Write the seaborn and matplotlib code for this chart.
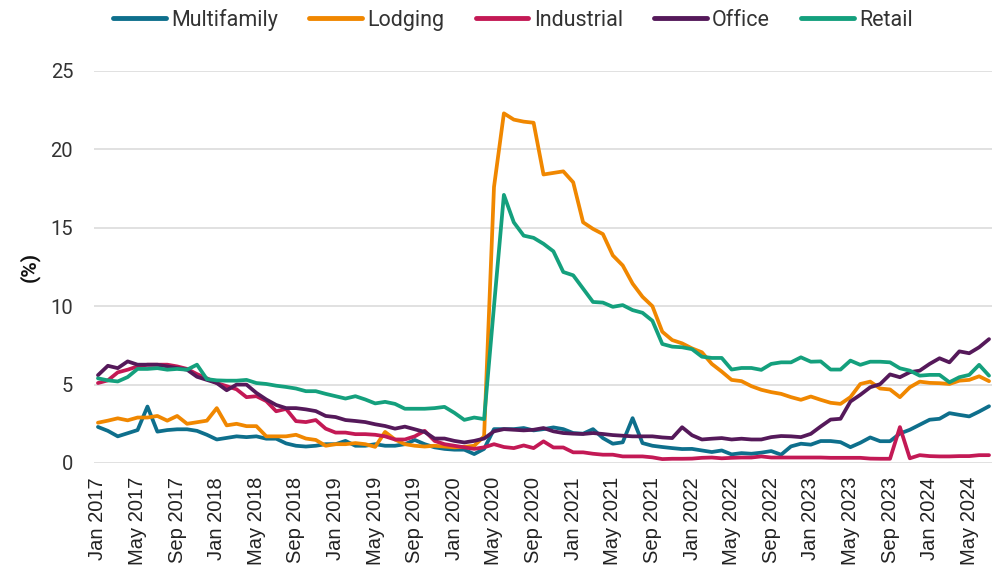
import matplotlib
matplotlib.use("Agg")
import matplotlib.pyplot as plt
import numpy as np
import pandas as pd
import seaborn as sns

# ---------------- data ----------------
months = pd.date_range("2017-01-01", periods=91, freq="MS")

multifamily = [2.3, 2.05, 1.7, 1.9, 2.1, 3.6, 2.0, 2.1, 2.15, 2.15, 2.05, 1.8, 1.5, 1.6, 1.7, 1.65, 1.7, 1.55, 1.55, 1.25, 1.1,
               1.05, 1.1, 1.2, 1.2, 1.41, 1.1, 1.1, 1.2, 1.1, 1.1, 1.2, 1.47, 1.2, 1.0, 0.9, 0.85, 0.85, 0.57, 0.9, 2.16,
               2.16, 2.16, 2.23, 2.08, 2.16, 2.27, 2.16, 1.91, 1.87, 2.16, 1.59, 1.23, 1.32, 2.86, 1.27, 1.1, 1.02, 0.95, 0.89, 0.9,
               0.8, 0.7, 0.8, 0.55, 0.63, 0.59, 0.66, 0.76, 0.53, 1.06, 1.23, 1.17, 1.4, 1.4, 1.33, 1.01, 1.29, 1.63, 1.39, 1.39,
               1.88, 2.12, 2.44, 2.76, 2.82, 3.18, 3.07, 2.97, 3.28, 3.62]

lodging = [2.57, 2.7, 2.85, 2.72, 2.9, 2.9, 3.0, 2.7, 3.0, 2.5, 2.6, 2.7, 3.5, 2.4, 2.5, 2.35, 2.35, 1.7, 1.7, 1.7, 1.8,
           1.56, 1.47, 1.1, 1.2, 1.2, 1.27, 1.2, 1.03, 1.98, 1.5, 1.2, 1.1, 1.05, 1.1, 1.05, 1.0, 1.03, 1.1, 1.7, 17.6,
           22.3, 21.9, 21.77, 21.7, 18.4, 18.5, 18.6, 17.9, 15.35, 14.93, 14.6, 13.24, 12.6, 11.44, 10.6, 10.0, 8.37, 7.84, 7.63, 7.31,
           7.06, 6.32, 5.83, 5.3, 5.22, 4.9, 4.67, 4.52, 4.41, 4.2, 4.03, 4.24, 4.03, 3.84, 3.77, 4.2, 5.04, 5.19, 4.75, 4.69,
           4.2, 4.83, 5.19, 5.11, 5.09, 5.04, 5.25, 5.3, 5.53, 5.22]

industrial = [5.1, 5.27, 5.78, 5.95, 6.16, 6.27, 6.27, 6.27, 6.16, 6.0, 5.67, 5.4, 5.1, 4.9, 4.7, 4.2, 4.26, 3.95, 3.3, 3.45, 2.67,
              2.61, 2.74, 2.19, 1.94, 1.94, 1.84, 1.84, 1.8, 1.7, 1.5, 1.5, 1.7, 2.05, 1.41, 1.2, 1.1, 1.0, 0.9, 1.0, 1.2,
              1.02, 0.95, 1.12, 0.95, 1.38, 0.99, 0.99, 0.68, 0.68, 0.59, 0.53, 0.53, 0.42, 0.42, 0.42, 0.36, 0.25, 0.27, 0.27, 0.28,
              0.33, 0.35, 0.3, 0.33, 0.35, 0.35, 0.42, 0.35, 0.35, 0.35, 0.35, 0.35, 0.35, 0.33, 0.33, 0.33, 0.33, 0.28, 0.27, 0.27,
              2.29, 0.3, 0.5, 0.44, 0.42, 0.42, 0.44, 0.44, 0.5, 0.5]

office = [5.6, 6.2, 6.05, 6.48, 6.27, 6.27, 6.27, 6.16, 6.05, 5.95, 5.5, 5.3, 5.1, 4.64, 5.0, 5.0, 4.47, 4.05, 3.7, 3.5, 3.5,
          3.42, 3.31, 3.0, 2.93, 2.74, 2.68, 2.61, 2.47, 2.36, 2.19, 2.32, 2.15, 1.98, 1.56, 1.56, 1.41, 1.31, 1.41, 1.56, 2.02,
          2.16, 2.12, 2.08, 2.12, 2.23, 2.02, 1.91, 1.87, 1.85, 1.91, 1.85, 1.78, 1.74, 1.7, 1.7, 1.7, 1.63, 1.59, 2.28, 1.77,
          1.5, 1.55, 1.59, 1.5, 1.55, 1.5, 1.5, 1.65, 1.72, 1.7, 1.65, 1.86, 2.33, 2.77, 2.82, 3.92, 4.35, 4.83, 5.03, 5.65,
          5.47, 5.79, 5.89, 6.32, 6.68, 6.42, 7.12, 7.0, 7.38, 7.9]

retail = [5.4, 5.27, 5.2, 5.48, 6.0, 6.0, 6.05, 5.95, 6.0, 5.95, 6.27, 5.35, 5.27, 5.25, 5.25, 5.3, 5.1, 5.04, 4.93, 4.85, 4.75,
          4.58, 4.58, 4.41, 4.26, 4.11, 4.26, 4.05, 3.8, 3.9, 3.77, 3.46, 3.46, 3.46, 3.5, 3.58, 3.2, 2.75, 2.9, 2.8, 10.0,
          17.1, 15.35, 14.5, 14.36, 13.98, 13.5, 12.18, 11.97, 11.12, 10.27, 10.23, 9.96, 10.07, 9.75, 9.58, 9.07, 7.59, 7.42, 7.38, 7.26,
          6.78, 6.7, 6.7, 5.96, 6.06, 6.06, 5.94, 6.32, 6.42, 6.42, 6.74, 6.46, 6.48, 5.96, 5.96, 6.53, 6.26, 6.46, 6.46, 6.42,
          6.04, 5.89, 5.57, 5.62, 5.62, 5.15, 5.47, 5.62, 6.26, 5.57]

series_names = ["Multifamily", "Lodging", "Industrial", "Office", "Retail"]
series_colors = ["#0E6F8C", "#F08700", "#C31955", "#55195A", "#14A07D"]

tick_idx = list(range(0, 91, 4))
tick_labels = [months[i].strftime("%b %Y") for i in tick_idx]

# ---------------- frame ----------------
wide = pd.DataFrame({
    "idx": np.arange(len(months)),
    "Multifamily": multifamily,
    "Lodging": lodging,
    "Industrial": industrial,
    "Office": office,
    "Retail": retail,
})
df = wide.melt(id_vars="idx", var_name="series", value_name="value")

sns.set_theme(style="white")
plt.rcParams["font.family"] = ["Roboto", "DejaVu Sans"]

fig = plt.figure(figsize=(9.92, 5.69), dpi=100)
ax = fig.add_axes([94 / 992, 1 - 463 / 569, 898 / 992, 392 / 569])

sns.lineplot(data=df, x="idx", y="value", hue="series", hue_order=series_names,
             palette=series_colors, linewidth=2.7, ax=ax, legend=False)

ax.set_xlim(-0.4, 90.3)
ax.set_ylim(0, 25)
ax.set_yticks([0, 5, 10, 15, 20, 25])
ax.set_yticklabels(["0", "5", "10", "15", "20", "25"], fontsize=14.5, color="#333333",
                   family=["Roboto", "DejaVu Sans"])
ax.set_xticks(tick_idx)
ax.set_xticklabels(tick_labels, rotation=90, fontsize=14.5, color="#222222",
                   family=["Liberation Sans", "DejaVu Sans"])
ax.tick_params(axis="both", length=0)
ax.tick_params(axis="y", pad=15)
ax.tick_params(axis="x", pad=10)

ax.grid(False)
ax.yaxis.grid(True, color="#d9d9d9", linewidth=1.1)
ax.set_axisbelow(True)
for s in ax.spines.values():
    s.set_visible(False)
for ln in ax.lines:
    ln.set_clip_on(False)

ax.set_xlabel("")
ax.set_ylabel("(%)", fontsize=15, fontweight="bold", color="#111111")
ax.yaxis.set_label_coords((40 - 94) / 898, 0.5)

handles = ax.lines[:5]
fig.legend(handles, series_names, loc="center", bbox_to_anchor=(513 / 992, 1 - 20 / 569),
           ncol=5, frameon=False, fontsize=15.5, handlelength=2.45, handletextpad=0.25,
           columnspacing=1.45, prop={"family": ["Roboto", "DejaVu Sans"], "size": 15.5})
for lh in fig.legends[0].get_lines():
    lh.set_linewidth(3.5)
for t in fig.legends[0].get_texts():
    t.set_color("#333333")

fig.savefig("out.png", dpi=100)
